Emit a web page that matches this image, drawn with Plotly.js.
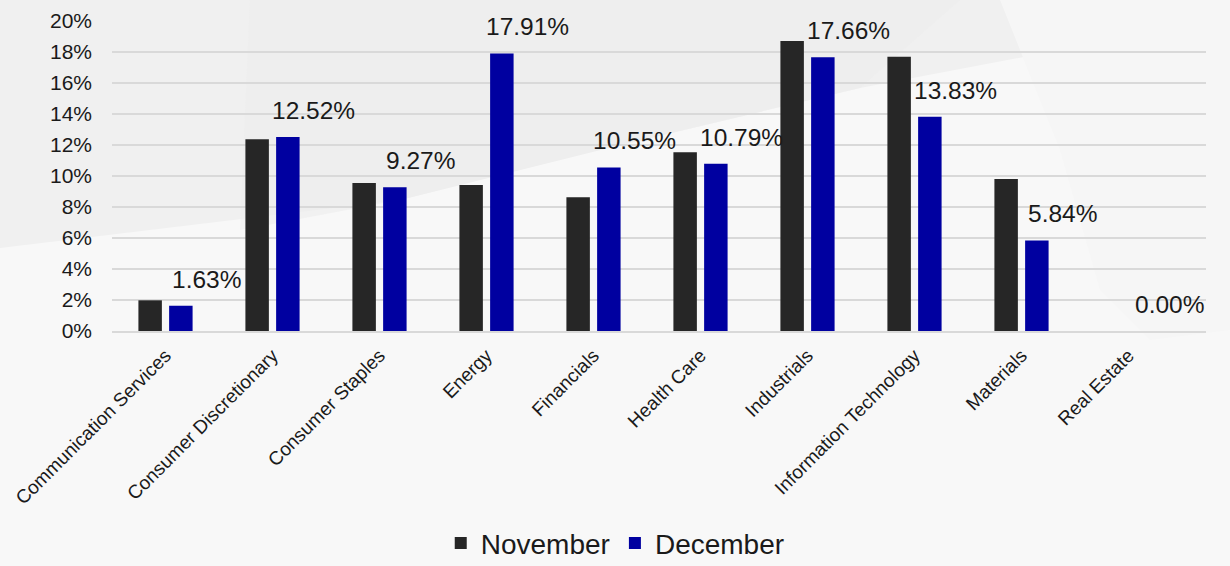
<!DOCTYPE html>
<html>
<head>
<meta charset="utf-8">
<script src="https://cdn.plot.ly/plotly-3.0.1.min.js"></script>
<style>html,body{margin:0;padding:0;background:#f8f8f8;}#chart{width:1230px;height:566px;}</style>
</head>
<body>
<div id="chart"></div>
<script>
const categories = ["Communication Services","Consumer Discretionary","Consumer Staples","Energy","Financials","Health Care","Industrials","Information Technology","Materials","Real Estate"];
const november = [1.98, 12.37, 9.55, 9.42, 8.63, 11.53, 18.71, 17.70, 9.81, 0.00];
const december = [1.63, 12.52, 9.27, 17.91, 10.55, 10.79, 17.66, 13.83, 5.84, 0.00];
const yTicks = [0,2,4,6,8,10,12,14,16,18,20];
const yTickLabels = yTicks.map(v => v + "%");

const FONT = "Liberation Sans, Arial, sans-serif";

const traces = [
  {type:"bar", name:"November", x:categories, y:november,
   marker:{color:"#262626", line:{width:0}}, hoverinfo:"x+y"},
  {type:"bar", name:"December", x:categories, y:december,
   marker:{color:"#0000a0", line:{width:0}}, hoverinfo:"x+y"}
];

const annotations = categories.map((c,i) => ({
  x:c, y:december[i], xref:"x", yref:"y",
  text: december[i].toFixed(2) + "%",
  showarrow:false, xanchor:"center", yanchor:"bottom",
  xshift:41, yshift:11,
  font:{family:FONT, size:24.5, color:"#1a1a1a"}
}));

function P(px,py){ return [((px-112)/1094).toFixed(4), ((331-py)/310).toFixed(4)]; }
function poly(pts){ return "M" + pts.map(p=>P(p[0],p[1]).join(",")).join(" L") + " Z"; }

const shapes = [
  {type:"path", xref:"paper", yref:"paper", layer:"below",
   path: poly([[0,0],[1230,0],[1230,18],[860,88],[600,150],[400,200],[0,248]]),
   fillcolor:"#f0f0f0", line:{width:0}},
  {type:"path", xref:"paper", yref:"paper", layer:"below",
   path: poly([[250,0],[960,0],[860,88],[600,150],[400,200],[240,230]]),
   fillcolor:"#ececec", opacity:0.6, line:{width:0}},
  {type:"path", xref:"paper", yref:"paper", layer:"below",
   path: poly([[1000,0],[1230,0],[1230,330],[1150,340],[1100,290],[1060,150]]),
   fillcolor:"#f6f6f6", line:{width:0}}
];

const layout = {
  width:1230, height:566,
  margin:{l:112, r:24, t:21, b:235, autoexpand:false},
  paper_bgcolor:"#f8f8f8", plot_bgcolor:"rgba(0,0,0,0)",
  barmode:"group", bargap:0.426, bargroupgap:0.236,
  font:{family:FONT, color:"#1a1a1a"},
  xaxis:{type:"category", tickangle:-45, tickfont:{family:FONT, size:19, color:"#1a1a1a"},
         showgrid:false, showline:true, linecolor:"#d9d9d9", linewidth:2, ticks:"", automargin:false,
         ticklabelstandoff:4},
  yaxis:{range:[0,20], tickvals:yTicks, ticktext:yTickLabels, showgrid:true, gridcolor:"#d9d9d9", gridwidth:2,
         zeroline:false, showline:false, ticks:"", ticklen:0, ticklabelstandoff:19,
         tickfont:{family:FONT, size:21, color:"#1a1a1a"}, automargin:false},
  legend:{orientation:"h", x:0.46, xanchor:"center", yref:"container", y:0.04, yanchor:"middle",
          font:{family:FONT, size:28, color:"#1a1a1a"}, bgcolor:"rgba(0,0,0,0)", itemclick:false},
  showlegend:true,
  annotations:annotations,
  shapes:shapes
};

Plotly.newPlot("chart", traces, layout, {displayModeBar:false, staticPlot:true});
</script>
</body>
</html>
